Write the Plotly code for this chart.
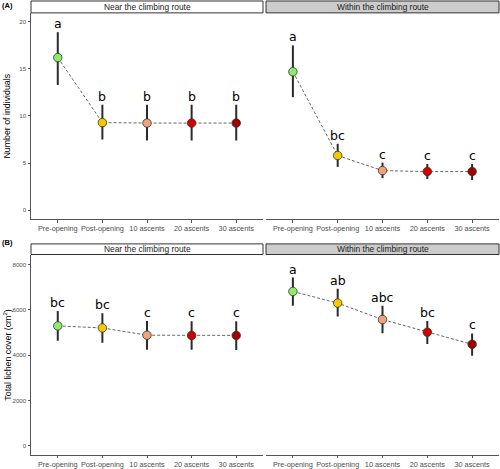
import plotly.graph_objects as go

W, H = 500, 469

categories = ["Pre-opening", "Post-opening", "10 ascents", "20 ascents", "30 ascents"]
point_colors = ["#8FEA6A", "#F5C800", "#F4A07A", "#D40000", "#A00000"]
facets = ["Near the climbing route", "Within the climbing route"]

# Panel A: number of individuals
a_near_mean = [16.2, 9.3, 9.25, 9.25, 9.25]
a_near_upper = [18.9, 11.2, 11.2, 11.2, 11.2]
a_near_lower = [13.3, 7.5, 7.4, 7.4, 7.4]
a_near_letters = ["a", "b", "b", "b", "b"]

a_within_mean = [14.7, 5.8, 4.2, 4.1, 4.1]
a_within_upper = [17.5, 7.05, 5.05, 4.9, 4.9]
a_within_lower = [12.0, 4.6, 3.4, 3.3, 3.2]
a_within_letters = ["a", "bc", "c", "c", "c"]

# Panel B: total lichen cover
b_near_mean = [5290, 5200, 4880, 4870, 4870]
b_near_upper = [5945, 5845, 5510, 5500, 5500]
b_near_lower = [4634, 4546, 4240, 4240, 4230]
b_near_letters = ["bc", "bc", "c", "c", "c"]

b_within_mean = [6807, 6295, 5570, 5014, 4477]
b_within_upper = [7418, 6924, 6181, 5508, 4957]
b_within_lower = [6181, 5700, 4970, 4490, 3978]
b_within_letters = ["a", "ab", "abc", "bc", "c"]

a_ticks = [0, 5, 10, 15, 20]
b_ticks = [0, 2000, 4000, 6000, 8000]

def px(x):
    return x / W

def py(y):
    return 1 - y / H

fig = go.Figure()

# layout geometry (pixels)
x_left = (31, 263)
x_right = (266, 499)
a_plot = (13, 221)
a_strip = (1, 13)
b_plot = (256.7, 458.7)
b_strip = (246, 256.7)

panels = [
    ("x", "y", a_near_mean, a_near_upper, a_near_lower, a_near_letters),
    ("x2", "y2", a_within_mean, a_within_upper, a_within_lower, a_within_letters),
    ("x3", "y3", b_near_mean, b_near_upper, b_near_lower, b_near_letters),
    ("x4", "y4", b_within_mean, b_within_upper, b_within_lower, b_within_letters),
]

annotations = []
for xa, ya, mean, up, lo, letters in panels:
    fig.add_trace(go.Scatter(
        x=categories, y=mean, xaxis=xa, yaxis=ya, mode="lines",
        line=dict(color="#666666", width=1, dash="3px,2px"),
        hoverinfo="skip", showlegend=False))
    fig.add_trace(go.Scatter(
        x=categories, y=mean, xaxis=xa, yaxis=ya, mode="markers",
        marker=dict(size=8.5, color=point_colors, line=dict(color="#333333", width=0.8)),
        error_y=dict(type="data", symmetric=False,
                     array=[u - m for u, m in zip(up, mean)],
                     arrayminus=[m - l for m, l in zip(mean, lo)],
                     color="#2b2b2b", thickness=2, width=0),
        showlegend=False))
    for c, u, t in zip(categories, up, letters):
        annotations.append(dict(
            x=c, y=u, xref=xa, yref=ya, text=t, showarrow=False,
            yanchor="bottom", xanchor="center", yshift=-1,
            font=dict(family="DejaVu Sans", size=12.5, color="#000000")))

xtickfont = dict(family="Liberation Sans, Arial", size=7.3, color="#4d4d4d")
ytickfont = dict(family="Liberation Sans, Arial", size=6.2, color="#4d4d4d")

def xaxis_cfg(dom):
    return dict(domain=[px(dom[0]), px(dom[1])], type="category",
                categoryorder="array", categoryarray=categories,
                range=[-0.6, 4.6], showline=True, linecolor="#555555", linewidth=1,
                ticks="outside", ticklen=2.5, tickcolor="#555555", tickwidth=0.8,
                tickfont=xtickfont, showgrid=False, zeroline=False, fixedrange=True)

def yaxis_cfg(dom, rng, ticks, show):
    d = dict(domain=[py(dom[1]), py(dom[0])], range=rng, showgrid=False, zeroline=False,
             fixedrange=True)
    if show:
        d.update(showline=True, linecolor="#555555", linewidth=1, ticks="outside",
                 ticklen=2.5, tickcolor="#555555", tickwidth=0.8, tickfont=ytickfont,
                 tickvals=ticks, ticktext=[str(t) for t in ticks])
    else:
        d.update(showline=False, showticklabels=False, ticks="")
    return d

a_range = [-0.95, 20.95]
b_range = [-393, 8437]

fig.update_layout(
    xaxis=dict(xaxis_cfg(x_left), anchor="y"),
    xaxis2=dict(xaxis_cfg(x_right), anchor="y2"),
    xaxis3=dict(xaxis_cfg(x_left), anchor="y3"),
    xaxis4=dict(xaxis_cfg(x_right), anchor="y4"),
    yaxis=dict(yaxis_cfg(a_plot, a_range, a_ticks, True), anchor="x"),
    yaxis2=dict(yaxis_cfg(a_plot, a_range, a_ticks, False), anchor="x2"),
    yaxis3=dict(yaxis_cfg(b_plot, b_range, b_ticks, True), anchor="x3"),
    yaxis4=dict(yaxis_cfg(b_plot, b_range, b_ticks, False), anchor="x4"),
)

shapes = []
strip_font = dict(family="Liberation Sans, Arial", size=8.4, color="#1a1a1a")
for strip in (a_strip, b_strip):
    for (x0, x1), fill, label in ((x_left, "#ffffff", facets[0]), (x_right, "#cccccc", facets[1])):
        shapes.append(dict(type="rect", xref="paper", yref="paper",
                           x0=px(x0), x1=px(x1), y0=py(strip[1]), y1=py(strip[0]),
                           fillcolor=fill, line=dict(color="#333333", width=1)))
        annotations.append(dict(x=px((x0 + x1) / 2), y=py((strip[0] + strip[1]) / 2),
                                xref="paper", yref="paper", text=label, showarrow=False,
                                xanchor="center", yanchor="middle", font=strip_font))

title_font = dict(family="Liberation Sans, Arial", size=8.8, color="#000000")
annotations.append(dict(x=px(7.5), y=py((a_plot[0] + a_plot[1]) / 2), xref="paper", yref="paper",
                        text="Number of individuals", textangle=-90, showarrow=False,
                        xanchor="center", yanchor="middle", font=title_font))
annotations.append(dict(x=px(7), y=py((b_plot[0] + b_plot[1]) / 2), xref="paper", yref="paper",
                        text="Total lichen cover (cm<sup>2</sup>)", textangle=-90, showarrow=False,
                        xanchor="center", yanchor="middle", font=title_font))
label_font = dict(family="Liberation Sans, Arial", size=7.5, color="#000000")
annotations.append(dict(x=0, y=py(6), xref="paper", yref="paper", text="<b>(A)</b>",
                        showarrow=False, xanchor="left", yanchor="middle", font=label_font))
annotations.append(dict(x=0, y=py(245), xref="paper", yref="paper", text="<b>(B)</b>",
                        showarrow=False, xanchor="left", yanchor="middle", font=label_font))

fig.update_layout(
    width=W, height=H, margin=dict(l=0, r=0, t=0, b=0),
    paper_bgcolor="white", plot_bgcolor="white",
    shapes=shapes, annotations=annotations, showlegend=False,
)

fig.write_html("out.html", config={"displayModeBar": False},
               post_script="document.body.style.margin='0';document.body.style.overflow='hidden';")
